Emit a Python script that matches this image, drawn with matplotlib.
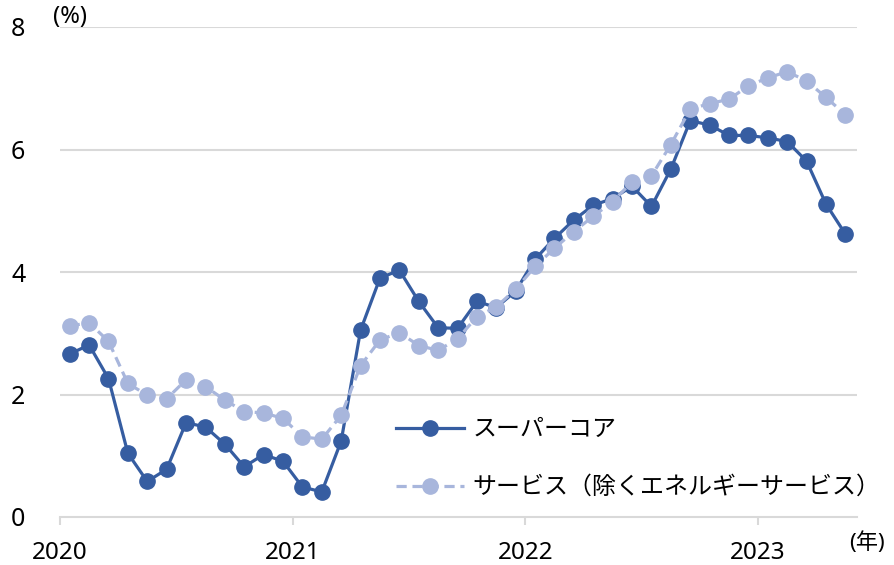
import matplotlib
matplotlib.use("Agg")
import matplotlib.pyplot as plt
import numpy as np

plt.rcParams['font.family'] = ['Noto Sans', 'Noto Sans CJK JP', 'DejaVu Sans']

# 月次データ 2020年1月〜2023年5月
years = [2020, 2021, 2022, 2023]
super_core = [2.66, 2.81, 2.26, 1.04, 0.58, 0.78, 1.54, 1.47, 1.19, 0.82, 1.02, 0.91,
              0.49, 0.41, 1.24, 3.05, 3.90, 4.03, 3.52, 3.09, 3.08, 3.52, 3.42, 3.69,
              4.21, 4.55, 4.85, 5.09, 5.20, 5.40, 5.07, 5.68, 6.47, 6.40, 6.23, 6.23,
              6.19, 6.13, 5.81, 5.11, 4.62]
services = [3.12, 3.17, 2.87, 2.18, 1.99, 1.93, 2.24, 2.13, 1.91, 1.72, 1.70, 1.61,
            1.31, 1.27, 1.66, 2.47, 2.89, 3.01, 2.80, 2.72, 2.91, 3.27, 3.43, 3.72,
            4.09, 4.39, 4.66, 4.91, 5.15, 5.47, 5.57, 6.08, 6.66, 6.75, 6.82, 7.04,
            7.17, 7.27, 7.12, 6.85, 6.57]
labels = ['スーパーコア', 'サービス（除くエネルギーサービス）']

dark = '#365DA1'
light = '#A8B6DC'
grid_c = '#D9D9D9'

months = np.arange(len(super_core)) + 0.5

fig = plt.figure(figsize=(8.95, 5.65), dpi=100)
ax = fig.add_axes([60 / 895, 48 / 565, 797 / 895, 490 / 565])

ax.plot(months, super_core, color=dark, lw=2.3, marker='o', ms=11,
        label=labels[0], zorder=3)
ax.plot(months, services, color=light, lw=2.3, marker='o', ms=11,
        dashes=(3.2, 1.8), label=labels[1], zorder=4)

ax.set_xlim(0, 41.1)
ax.set_ylim(0, 8)
ax.set_yticks([0, 2, 4, 6, 8])
ax.set_xticks([(y - 2020) * 12 for y in years])
ax.set_xticklabels([str(y) for y in years])

for v in [2, 4, 6, 8]:
    ax.axhline(v, color=grid_c, lw=1.5, zorder=1)

for s in ['top', 'right', 'left']:
    ax.spines[s].set_visible(False)
ax.spines['bottom'].set_color(grid_c)
ax.spines['bottom'].set_linewidth(1.5)

ax.tick_params(axis='y', length=0, pad=25, labelsize=18)
ax.tick_params(axis='x', length=6, width=1.5, color=grid_c, pad=11.5, labelsize=17.5)

ax.text(-0.009, 1.02, '(%)', transform=ax.transAxes, fontsize=17,
        ha='left', va='center')
fig.text(885 / 895, 1 - 543 / 565, '(年)', fontsize=16, ha='right', va='center')

leg = ax.legend(loc='center left', bbox_to_anchor=(0.4216, 0.118), frameon=False,
                fontsize=17.25, handlelength=2.85, handletextpad=0.33,
                labelspacing=1.42, borderpad=0, borderaxespad=0)

fig.savefig('out.png', dpi=100)
